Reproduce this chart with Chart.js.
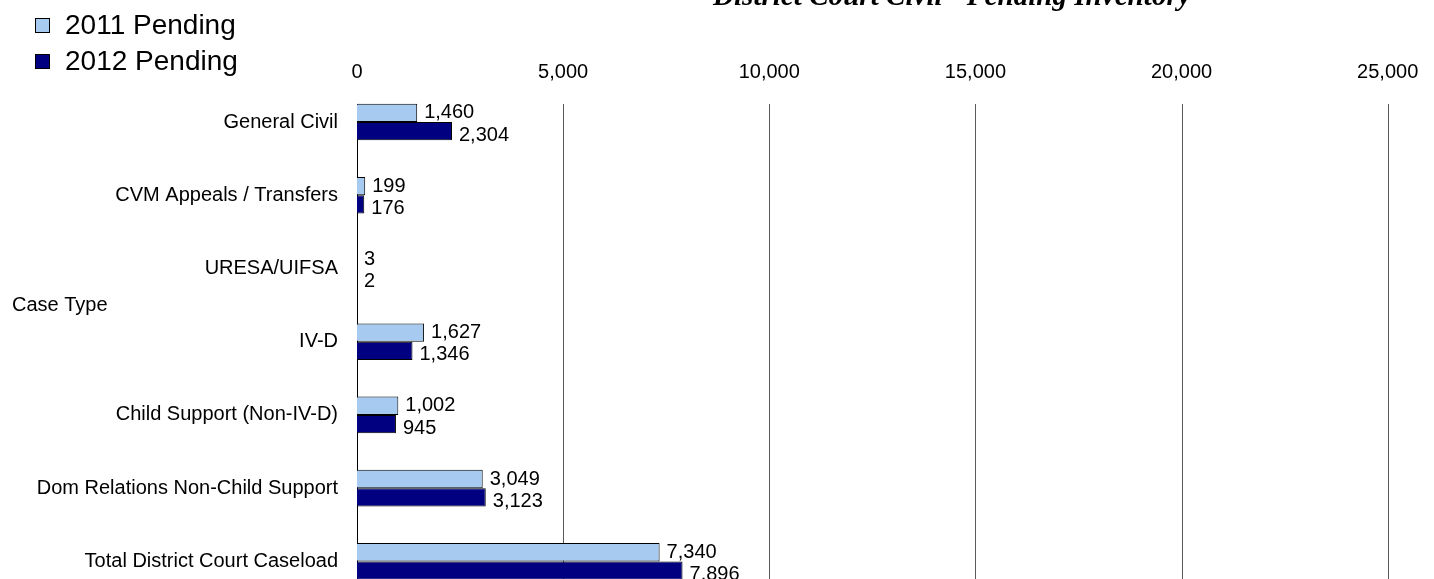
<!DOCTYPE html>
<html>
<head>
<meta charset="utf-8">
<script src="https://cdn.jsdelivr.net/npm/chart.js@4.4.1/dist/chart.umd.min.js"></script>
<style>
  html, body { margin:0; padding:0; background:#fff; overflow:hidden; }
  #wrap { position:absolute; left:0; top:0; width:1434px; height:640px; }
</style>
</head>
<body>
<div id="wrap"><canvas id="pendingChart" width="1434" height="629"></canvas></div>
<script>
// datos del grafico
const categories = [
  'General Civil',
  'CVM Appeals / Transfers',
  'URESA/UIFSA',
  'IV-D',
  'Child Support (Non-IV-D)',
  'Dom Relations Non-Child Support',
  'Total District Court Caseload'
];
const seriesNames = ['2011 Pending', '2012 Pending'];
const pending2011 = [1460, 199, 3, 1627, 1002, 3049, 7340];
const pending2012 = [2304, 176, 2, 1346, 945, 3123, 7896];
const xTicks = [0, 5000, 10000, 15000, 20000, 25000];

const chartTitle = 'District Court Civil - Pending Inventory';
const axisTitle = 'Case Type';

const SANS = '"Liberation Sans", Arial, sans-serif';
const SERIF = '"Liberation Serif", "Times New Roman", serif';

function fmt(n) {
  return n.toLocaleString('en-US');
}

// lineas de la grilla (empiezan en la primera barra, como el original)
const gridPlugin = {
  id: 'gridLines',
  beforeDatasetsDraw(chart) {
    const {ctx, chartArea, scales} = chart;
    const first = chart.getDatasetMeta(0).data[0];
    const top = Math.round(first.y - first.height / 2);
    ctx.save();
    ctx.lineWidth = 1;
    xTicks.forEach(v => {
      const px = Math.round(scales.x.getPixelForValue(v)) + 0.5;
      ctx.strokeStyle = v === 0 ? '#000' : '#5a5a5a';
      ctx.beginPath();
      ctx.moveTo(px, top);
      ctx.lineTo(px, chartArea.bottom);
      ctx.stroke();
    });
    ctx.restore();
  }
};

// etiquetas de valores
const labelPlugin = {
  id: 'valueLabels',
  afterDatasetsDraw(chart) {
    const {ctx} = chart;
    ctx.save();
    ctx.font = '20px ' + SANS;
    ctx.fillStyle = '#000';
    ctx.textAlign = 'left';
    ctx.textBaseline = 'middle';
    chart.data.datasets.forEach((ds, i) => {
      chart.getDatasetMeta(i).data.forEach((bar, j) => {
        const dy = i === 0 ? 0 : 4;
        ctx.fillText(fmt(ds.data[j]), bar.x + 7, bar.y + dy);
      });
    });
    ctx.restore();
  }
};

// leyenda, titulo y titulo del eje
const extrasPlugin = {
  id: 'extras',
  afterDraw(chart) {
    const {ctx} = chart;
    ctx.save();
    // leyenda
    chart.data.datasets.forEach((ds, i) => {
      const cy = 25 + i * 36;
      ctx.fillStyle = ds.backgroundColor;
      ctx.fillRect(35, cy - 7, 15, 15);
      ctx.strokeStyle = '#000';
      ctx.lineWidth = 1;
      ctx.strokeRect(35.5, cy - 6.5, 14, 14);
      ctx.fillStyle = '#000';
      ctx.font = '28px ' + SANS;
      ctx.textAlign = 'left';
      ctx.textBaseline = 'middle';
      ctx.fillText(ds.label, 65, cy + 1);
    });
    // "Case Type"
    ctx.font = '20px ' + SANS;
    ctx.fillText(axisTitle, 12, 305);
    // titulo cortado arriba
    ctx.font = 'italic bold 24px ' + SERIF;
    const w = ctx.measureText(chartTitle).width;
    const size = 24 * 477 / w;
    ctx.font = 'italic bold ' + size.toFixed(1) + 'px ' + SERIF;
    ctx.textBaseline = 'alphabetic';
    ctx.fillText(chartTitle, 713, 5);
    ctx.restore();
  }
};

const ctx = document.getElementById('pendingChart').getContext('2d');
const chart = new Chart(ctx, {
  type: 'bar',
  data: {
    labels: categories,
    datasets: [
      {
        label: seriesNames[0],
        data: pending2011,
        backgroundColor: '#A6CAF0',
        borderColor: '#000',
        borderWidth: 1,
        borderSkipped: 'start'
      },
      {
        label: seriesNames[1],
        data: pending2012,
        backgroundColor: '#000080',
        borderColor: '#000',
        borderWidth: 1,
        borderSkipped: 'start'
      }
    ]
  },
  options: {
    indexAxis: 'y',
    responsive: false,
    devicePixelRatio: 1,
    animation: false,
    barPercentage: 1,
    categoryPercentage: 0.5,
    layout: { padding: { left: 0, right: 46.3, top: 0, bottom: 2 } },
    plugins: {
      legend: { display: false },
      title: { display: false },
      tooltip: { enabled: false }
    },
    scales: {
      x: {
        position: 'top',
        min: 0,
        max: 25000,
        afterBuildTicks: s => { s.ticks = xTicks.map(v => ({value: v})); },
        afterFit: s => { s.height = 85.4; },
        ticks: {
          font: { family: SANS, size: 20 },
          color: '#000',
          padding: 1,
          maxRotation: 0,
          callback: v => fmt(v)
        },
        grid: { display: false, drawTicks: false },
        border: { display: false }
      },
      y: {
        afterFit: s => { s.width = 357; },
        ticks: {
          font: { family: SANS, size: 20 },
          color: '#000',
          padding: 19
        },
        grid: { display: false, drawTicks: false },
        border: { display: false }
      }
    }
  },
  plugins: [gridPlugin, labelPlugin, extrasPlugin]
});
</script>
</body>
</html>
